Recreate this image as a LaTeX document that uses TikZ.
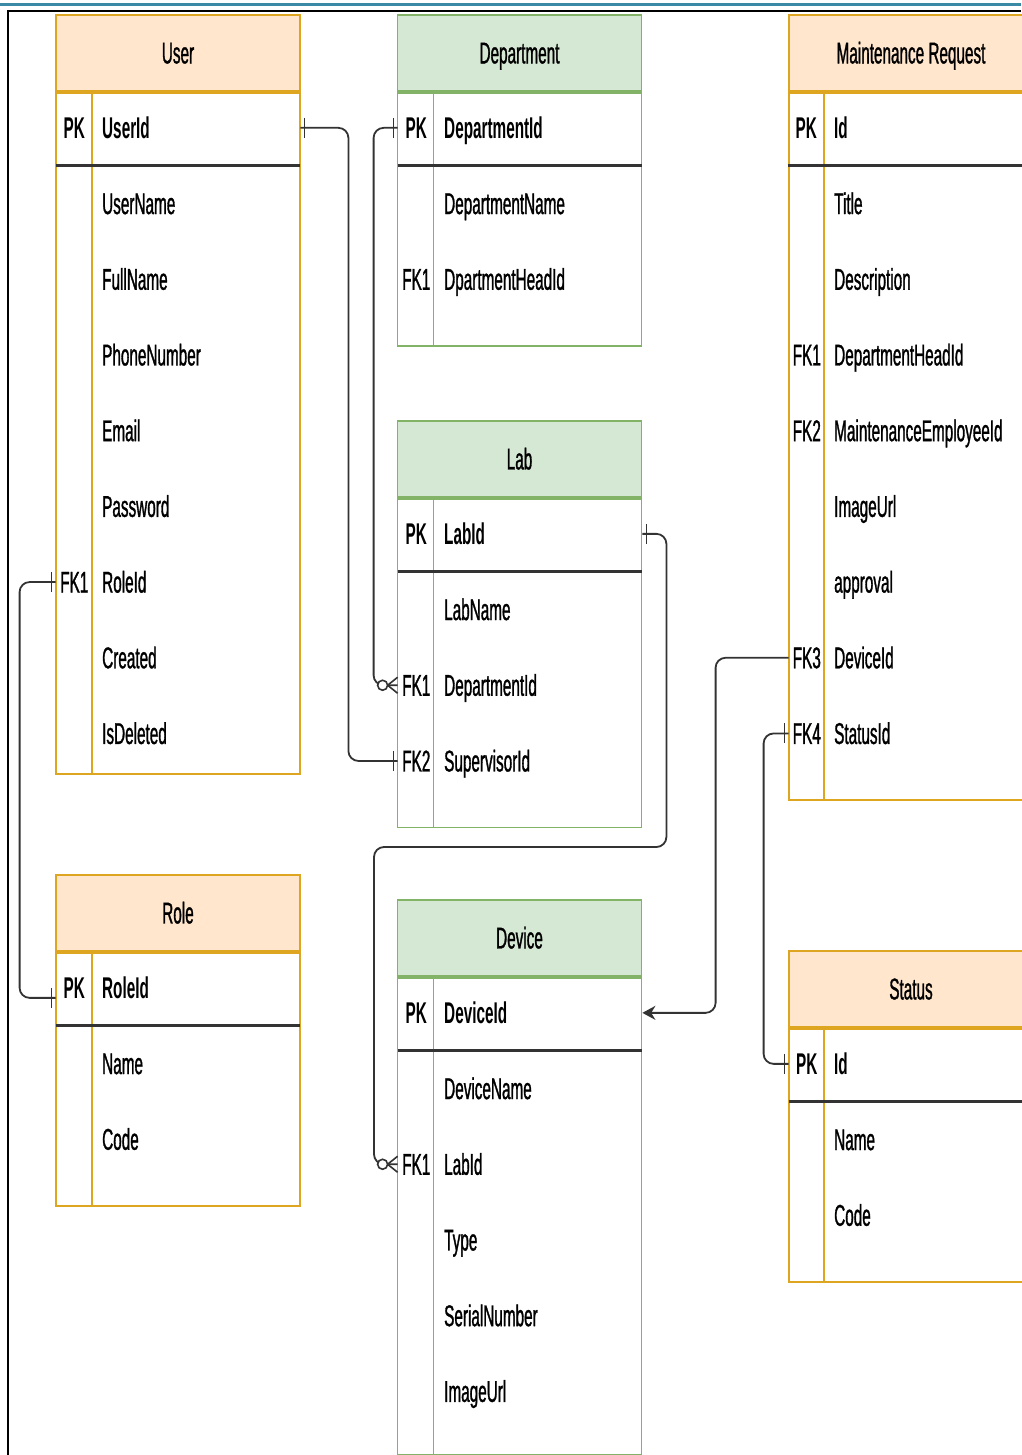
\documentclass[tikz,border=0pt]{standalone}
\usepackage{fontspec}
\setmainfont{Liberation Sans}[FakeStretch=0.51,UprightFeatures={FakeBold=1}]
\usetikzlibrary{positioning}
\usetikzlibrary{arrows.meta}

\definecolor{orangeline}{HTML}{DEA620}
\definecolor{orangefill}{HTML}{FFE6CC}
\definecolor{greenline}{HTML}{82B366}
\definecolor{greenfill}{HTML}{D5E8D4}
\definecolor{connline}{HTML}{333333}
\definecolor{ruleblue}{HTML}{3A8AA5}

\begin{document}
\begin{tikzpicture}
[x=1pt,y=-1pt,%
  every node/.style={font=\fontsize{30}{36}\selectfont,inner sep=0pt,text height=21pt,text depth=0pt},%
  head/.style={draw=#1line,fill=#1fill,line width=1.8pt,minimum width=244pt,minimum height=76pt,anchor=north},%
  body/.style={draw=#1line,line width=1.8pt,minimum width=244pt},%
  divider/.style={draw=#1line,line width=1.6pt},%
  key/.style={anchor=east,minimum width=37pt,minimum height=75.7pt},%
  field/.style={anchor=west,minimum height=75.7pt,text width=189pt,inner xsep=9pt,align=left},%
  pk/.style={font=\fontsize{30}{36}\selectfont\bfseries},%
  pkline/.style={draw=connline,line width=3pt},%
  conn/.style={draw=connline,line width=1.8pt,rounded corners=10pt},%
  onemark/.style={draw=connline,line width=1.6pt}]
\useasboundingbox (0,0) rectangle (1021,1455);

% frame
\draw[ruleblue,line width=3pt] (0,5) -- (1021,5);
\draw[black,line width=2.5pt] (8,1455) -- (8,11) -- (1021,11);

% User
\node[head=orange] (user-head) at (178,14) {User};
\node[body=orange,minimum height=681.3pt,below=0pt of user-head] (user-body) {};
\draw[divider=orange] ([xshift=37pt]user-body.north west) -- ([xshift=37pt]user-body.south west);
\node[key,pk] (user-k0) at (93,127.85) {PK};
\node[field,pk] (user-f0) at (93,127.85) {UserId};
\draw[pkline] (user-k0.south west) -- (user-f0.south east);
\foreach \k/\f [count=\i] in {{}/UserName,{}/FullName,{}/PhoneNumber,{}/Email,{}/Password,FK1/RoleId,{}/Created,{}/IsDeleted}
{
  \node[key] (user-k\i) at (93,{165.7+(\i-0.5)*75.7}) {\k};
  \node[field] (user-f\i) at (93,{165.7+(\i-0.5)*75.7}) {\f};
}

% Role
\node[head=orange] (role-head) at (178,874) {Role};
\node[body=orange,minimum height=253.1pt,below=0pt of role-head] (role-body) {};
\draw[divider=orange] ([xshift=37pt]role-body.north west) -- ([xshift=37pt]role-body.south west);
\node[key,pk] (role-k0) at (93,987.85) {PK};
\node[field,pk] (role-f0) at (93,987.85) {RoleId};
\draw[pkline] (role-k0.south west) -- (role-f0.south east);
\foreach \k/\f [count=\i] in {{}/Name,{}/Code}
{
  \node[key] (role-k\i) at (93,{1025.7+(\i-0.5)*75.7}) {\k};
  \node[field] (role-f\i) at (93,{1025.7+(\i-0.5)*75.7}) {\f};
}

% Department
\node[head=green] (dep-head) at (519.5,14) {Department};
\node[body=green,minimum height=253.1pt,below=0pt of dep-head] (dep-body) {};
\draw[divider=green] ([xshift=37pt]dep-body.north west) -- ([xshift=37pt]dep-body.south west);
\node[key,pk] (dep-k0) at (435,127.85) {PK};
\node[field,pk] (dep-f0) at (435,127.85) {DepartmentId};
\draw[pkline] (dep-k0.south west) -- (dep-f0.south east);
\foreach \k/\f [count=\i] in {{}/DepartmentName,FK1/DpartmentHeadId}
{
  \node[key] (dep-k\i) at (435,{165.7+(\i-0.5)*75.7}) {\k};
  \node[field] (dep-f\i) at (435,{165.7+(\i-0.5)*75.7}) {\f};
}

% Lab
\node[head=green] (lab-head) at (519.5,420) {Lab};
\node[body=green,minimum height=328.8pt,below=0pt of lab-head] (lab-body) {};
\draw[divider=green] ([xshift=37pt]lab-body.north west) -- ([xshift=37pt]lab-body.south west);
\node[key,pk] (lab-k0) at (435,533.85) {PK};
\node[field,pk] (lab-f0) at (435,533.85) {LabId};
\draw[pkline] (lab-k0.south west) -- (lab-f0.south east);
\foreach \k/\f [count=\i] in {{}/LabName,FK1/DepartmentId,FK2/SupervisorId}
{
  \node[key] (lab-k\i) at (435,{571.7+(\i-0.5)*75.7}) {\k};
  \node[field] (lab-f\i) at (435,{571.7+(\i-0.5)*75.7}) {\f};
}

% Device
\node[head=green] (dev-head) at (519.5,899) {Device};
\node[body=green,minimum height=477.2pt,below=0pt of dev-head] (dev-body) {};
\draw[divider=green] ([xshift=37pt]dev-body.north west) -- ([xshift=37pt]dev-body.south west);
\node[key,pk] (dev-k0) at (435,1012.85) {PK};
\node[field,pk] (dev-f0) at (435,1012.85) {DeviceId};
\draw[pkline] (dev-k0.south west) -- (dev-f0.south east);
\foreach \k/\f [count=\i] in {{}/DeviceName,FK1/LabId,{}/Type,{}/SerialNumber,{}/ImageUrl}
{
  \node[key] (dev-k\i) at (435,{1050.7+(\i-0.5)*75.7}) {\k};
  \node[field] (dev-f\i) at (435,{1050.7+(\i-0.5)*75.7}) {\f};
}

% Maintenance Request
\node[head=orange] (mr-head) at (911,14) {Maintenance Request};
\node[body=orange,minimum height=707.3pt,below=0pt of mr-head] (mr-body) {};
\draw[divider=orange] ([xshift=36pt]mr-body.north west) -- ([xshift=36pt]mr-body.south west);
\node[key,pk] (mr-k0) at (825,127.85) {PK};
\node[field,pk] (mr-f0) at (825,127.85) {Id};
\draw[pkline] (mr-k0.south west) -- (mr-f0.south east);
\foreach \k/\f [count=\i] in {{}/Title,{}/Description,FK1/DepartmentHeadId,FK2/MaintenanceEmployeeId,{}/ImageUrl,{}/approval,FK3/DeviceId,FK4/StatusId}
{
  \node[key,minimum width=36pt] (mr-k\i) at (825,{165.7+(\i-0.5)*75.7}) {\k};
  \node[field] (mr-f\i) at (825,{165.7+(\i-0.5)*75.7}) {\f};
}

% Status
\node[head=orange] (st-head) at (911,950) {Status};
\node[body=orange,minimum height=253.1pt,below=0pt of st-head] (st-body) {};
\draw[divider=orange] ([xshift=36pt]st-body.north west) -- ([xshift=36pt]st-body.south west);
\node[key,pk,minimum width=36pt] (st-k0) at (825,1063.85) {PK};
\node[field,pk] (st-f0) at (825,1063.85) {Id};
\draw[pkline] (st-k0.south west) -- (st-f0.south east);
\foreach \k/\f [count=\i] in {{}/Name,{}/Code}
{
  \node[key,minimum width=36pt] (st-k\i) at (825,{1101.7+(\i-0.5)*75.7}) {\k};
  \node[field] (st-f\i) at (825,{1101.7+(\i-0.5)*75.7}) {\f};
}

% relations
\draw[conn] (user-f0.east) -- ++(48pt,0) |- (lab-k3.west);
\draw[conn] (dep-k0.west) -- ++(-24pt,0) |- (lab-k2.west);
\coordinate (lab-turn) at (374,847);
\draw[conn] (lab-f0.east) -- ++(24pt,0) |- (lab-turn) |- (dev-k2.west);
\draw[conn,-{Stealth[length=13pt,width=14pt]}] (mr-k7.west) -- ++(-73pt,0) |- (dev-f0.east);
\draw[conn] (mr-k8.west) -- ++(-25pt,0) |- (st-k0.west);
\draw[conn] (user-k6.west) -- ++(-36pt,0) |- ([yshift=-10pt]role-k0.west);

% one marks
\draw[onemark] ([xshift=4pt,yshift=10pt]user-f0.east) -- ([xshift=4pt,yshift=-10pt]user-f0.east);
\draw[onemark] ([xshift=-4pt,yshift=10pt]dep-k0.west) -- ([xshift=-4pt,yshift=-10pt]dep-k0.west);
\draw[onemark] ([xshift=-4pt,yshift=10pt]lab-k3.west) -- ([xshift=-4pt,yshift=-10pt]lab-k3.west);
\draw[onemark] ([xshift=4pt,yshift=10pt]lab-f0.east) -- ([xshift=4pt,yshift=-10pt]lab-f0.east);
\draw[onemark] ([xshift=-4pt,yshift=10pt]mr-k8.west) -- ([xshift=-4pt,yshift=-10pt]mr-k8.west);
\draw[onemark] ([xshift=-4pt,yshift=10pt]st-k0.west) -- ([xshift=-4pt,yshift=-10pt]st-k0.west);
\draw[onemark] ([xshift=-4pt,yshift=10pt]user-k6.west) -- ([xshift=-4pt,yshift=-10pt]user-k6.west);
\draw[onemark] ([xshift=-4pt,yshift=0pt]role-k0.west) -- ([xshift=-4pt,yshift=-20pt]role-k0.west);

% many marks
\draw[onemark] ([xshift=-10pt]lab-k2.west) -- ([yshift=8pt]lab-k2.west)
  ([xshift=-10pt]lab-k2.west) -- ([yshift=-8pt]lab-k2.west);
\draw[onemark,fill=white] ([xshift=-15pt]lab-k2.west) circle[radius=5pt];
\draw[onemark] ([xshift=-10pt]dev-k2.west) -- ([yshift=8pt]dev-k2.west)
  ([xshift=-10pt]dev-k2.west) -- ([yshift=-8pt]dev-k2.west);
\draw[onemark,fill=white] ([xshift=-15pt]dev-k2.west) circle[radius=5pt];
\end{tikzpicture}
\end{document}
